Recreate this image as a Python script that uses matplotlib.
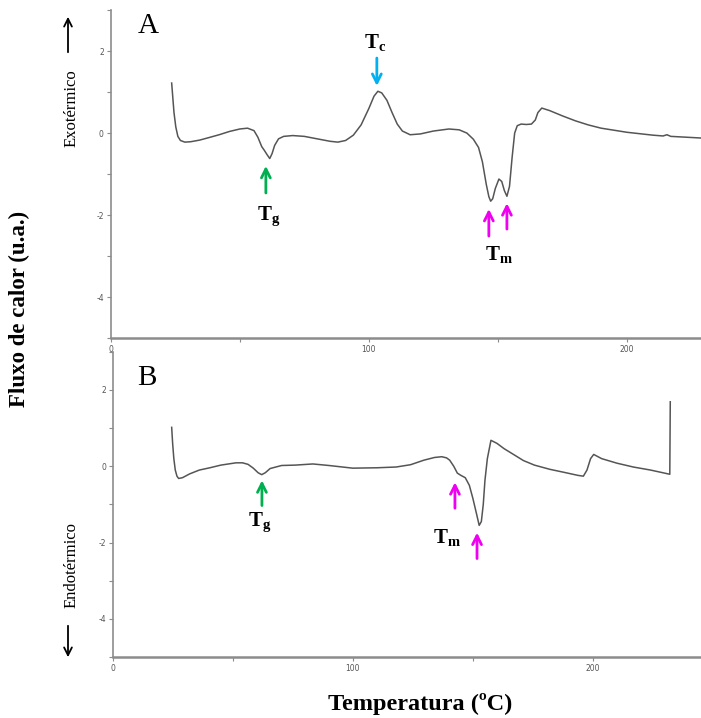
import matplotlib
matplotlib.use("Agg")
import matplotlib.pyplot as plt
from matplotlib.ticker import MultipleLocator

plt.rcParams['font.family'] = ['Liberation Serif', 'DejaVu Serif']
plt.rcParams['mathtext.fontset'] = 'custom'
plt.rcParams['mathtext.rm'] = 'Liberation Serif'
plt.rcParams['mathtext.bf'] = 'Liberation Serif:bold'
plt.rcParams['axes.unicode_minus'] = False

# curve A (temperature in C, heat flow in a.u.)
temp_a = [23.6, 24.0, 24.5, 25.2, 26.0, 27.0, 28.7, 31, 34.5, 38, 42, 46, 50, 53, 55.5, 57,
          58.5, 59.5, 60.5, 61.6, 62.5, 63.5, 65, 67, 70.5, 75, 80, 85, 88, 91, 94, 97, 100,
          102, 103.5, 105, 107, 109, 111, 113, 116, 120, 125, 131, 135, 138, 140.5, 142.5,
          144, 145.5, 146.5, 147.2, 148, 149, 150.4, 151.5, 152.5, 153.5, 154.5, 155.5,
          156.5, 157.5, 159, 161, 163, 164.5, 165.5, 167, 170, 175, 180, 185, 190, 200,
          210, 214, 215.5, 217, 220, 228.7]
flux_a = [1.22, 0.9, 0.5, 0.15, -0.08, -0.18, -0.22, -0.21, -0.17, -0.11, -0.04, 0.04, 0.1,
          0.12, 0.06, -0.1, -0.33, -0.42, -0.52, -0.62, -0.5, -0.3, -0.14, -0.08, -0.06,
          -0.08, -0.14, -0.2, -0.22, -0.18, -0.05, 0.2, 0.6, 0.9, 1.02, 0.98, 0.8, 0.5,
          0.22, 0.05, -0.04, -0.02, 0.05, 0.1, 0.08, 0.0, -0.15, -0.35, -0.7, -1.25, -1.55,
          -1.66, -1.6, -1.35, -1.12, -1.18, -1.4, -1.54, -1.3, -0.6, 0.0, 0.18, 0.22, 0.21,
          0.22, 0.32, 0.5, 0.61, 0.55, 0.42, 0.3, 0.2, 0.12, 0.02, -0.05, -0.07, -0.04,
          -0.08, -0.09, -0.12]

# curve B
temp_b = [24.5, 24.9, 25.4, 26.0, 26.7, 27.4, 29, 32, 36, 40.4, 45, 51.3, 54, 56.3, 58.5,
          60.5, 62, 63.5, 65.5, 70.3, 76, 83.3, 90, 99.9, 110, 118, 124, 129.6, 134, 137,
          139, 140.3, 142, 143.5, 145, 146.8, 148.5, 150, 151.5, 152.6, 153.5, 154.3, 155,
          156, 157.5, 160, 163, 167.4, 171, 175.6, 182, 188, 193.8, 196, 197.5, 199, 200.3,
          203.6, 210, 216.8, 224, 232, 232.2]
flux_b = [1.02, 0.6, 0.2, -0.1, -0.26, -0.32, -0.3, -0.2, -0.1, -0.04, 0.03, 0.09, 0.09,
          0.05, -0.05, -0.17, -0.22, -0.17, -0.06, 0.02, 0.03, 0.06, 0.02, -0.05, -0.04,
          -0.02, 0.04, 0.16, 0.23, 0.25, 0.22, 0.16, 0.0, -0.18, -0.24, -0.3, -0.5, -0.85,
          -1.25, -1.55, -1.45, -1.0, -0.37, 0.2, 0.68, 0.6, 0.46, 0.29, 0.15, 0.03, -0.08,
          -0.16, -0.24, -0.26, -0.1, 0.2, 0.31, 0.2, 0.08, -0.02, -0.1, -0.21, 1.69]

line_col = '#555555'
spine_col = '#8c8c8c'
green = '#00b050'
blue = '#00b0f0'
magenta = '#f000f0'

fig = plt.figure(figsize=(7.01, 7.18), dpi=100)
ax1 = fig.add_axes([0.158, 0.529, 0.842, 0.457])
ax2 = fig.add_axes([0.161, 0.085, 0.839, 0.425])

for ax, xmax in ((ax1, 228.7), (ax2, 245)):
    ax.set_xlim(0, xmax)
    ax.set_ylim(-5, 3)
    ax.spines['top'].set_visible(False)
    ax.spines['right'].set_visible(False)
    for s in ('left', 'bottom'):
        ax.spines[s].set_color(spine_col)
    ax.spines['left'].set_linewidth(1.2)
    ax.spines['bottom'].set_linewidth(1.8)
    ax.xaxis.set_major_locator(MultipleLocator(100))
    ax.xaxis.set_minor_locator(MultipleLocator(50))
    ax.yaxis.set_major_locator(MultipleLocator(2))
    ax.yaxis.set_minor_locator(MultipleLocator(1))
    ax.tick_params(which='both', colors=spine_col, labelcolor='#555555',
                   labelsize=5.5, length=3, width=0.8, pad=2)
    for lab in ax.get_xticklabels() + ax.get_yticklabels():
        lab.set_family('DejaVu Sans')

ax1.plot(temp_a, flux_a, color=line_col, lw=1.1)
ax2.plot(temp_b, flux_b, color=line_col, lw=1.1)

ax1.text(0.063, 0.951, 'A', transform=ax1.transAxes, fontsize=21, ha='center', va='center')
ax2.text(0.058, 0.915, 'B', transform=ax2.transAxes, fontsize=21, ha='center', va='center')


def arrow(ax, x, y_tail, y_head, color):
    ax.annotate('', xy=(x, y_head), xytext=(x, y_tail),
                arrowprops=dict(arrowstyle='->', lw=2, color=color, mutation_scale=16,
                                shrinkA=0, shrinkB=0))


lab_kw = dict(fontsize=15, ha='center', va='center')

# panel A markers
arrow(ax1, 60.1, -1.46, -0.80, green)
ax1.text(61.2, -2.02, r'$\mathbf{T_g}$', **lab_kw)
arrow(ax1, 103.1, 1.83, 1.15, blue)
ax1.text(102.3, 2.2, r'$\mathbf{T_c}$', **lab_kw)
arrow(ax1, 146.5, -2.51, -1.85, magenta)
arrow(ax1, 153.5, -2.34, -1.71, magenta)
ax1.text(150.4, -2.95, r'$\mathbf{T_m}$', **lab_kw)

# panel B markers
arrow(ax2, 62.1, -1.03, -0.37, green)
ax2.text(61.2, -1.47, r'$\mathbf{T_g}$', **lab_kw)
arrow(ax2, 142.5, -1.1, -0.42, magenta)
arrow(ax2, 151.7, -2.42, -1.74, magenta)
ax2.text(139.2, -1.87, r'$\mathbf{T_m}$', **lab_kw)

# outer labels
fig.text(72 / 701, 1 - 108 / 718, 'Exotérmico', rotation=90, fontsize=12, ha='center', va='center')
fig.text(72 / 701, 1 - 565 / 718, 'Endotérmico', rotation=90, fontsize=12, ha='center', va='center')
fig.text(19 / 701, 1 - 309 / 718, 'Fluxo de calor (u.a.)', rotation=90, fontsize=16.5,
         fontweight='bold', ha='center', va='center')
fig.text(420 / 701, 1 - 704 / 718, 'Temperatura (ºC)', fontsize=17.5, fontweight='bold',
         ha='center', va='center')
fig.patches.append(matplotlib.patches.FancyArrowPatch(
    (68 / 701, 1 - 55 / 718), (68 / 701, 1 - 14 / 718), transform=fig.transFigure,
    arrowstyle='->', mutation_scale=14, lw=1.3, color='black'))
fig.patches.append(matplotlib.patches.FancyArrowPatch(
    (68 / 701, 1 - 623 / 718), (68 / 701, 1 - 660 / 718), transform=fig.transFigure,
    arrowstyle='->', mutation_scale=14, lw=1.3, color='black'))

fig.savefig('out.png', dpi=100)
